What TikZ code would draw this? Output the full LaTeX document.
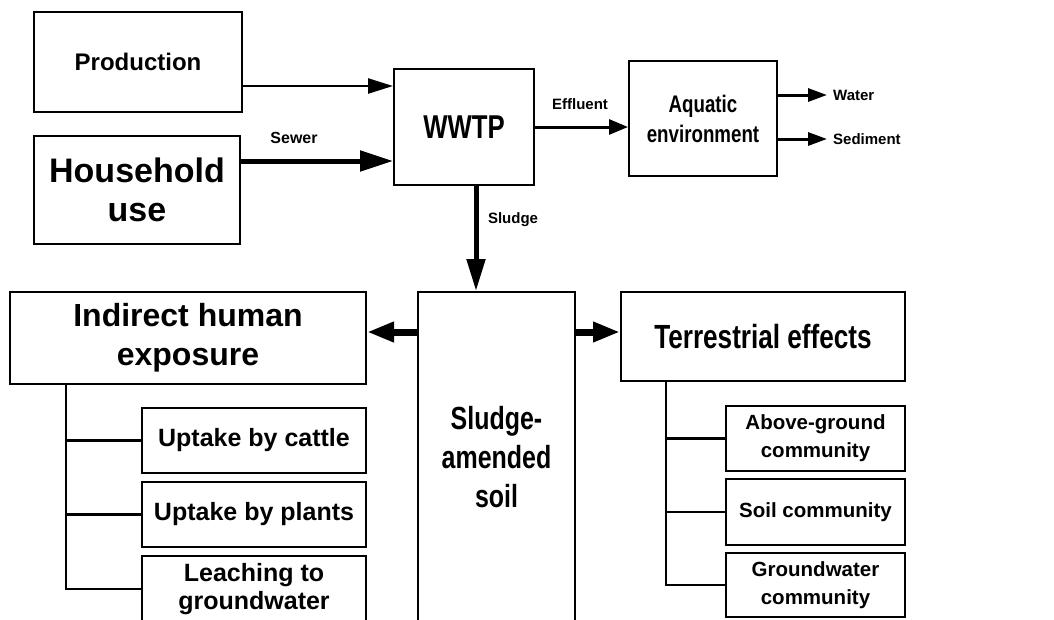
\documentclass[tikz,border=0pt]{standalone}
\usepackage{fontspec}
\setmainfont{Liberation Sans}
\newfontfamily\narrowsf{Liberation Sans}[FakeStretch=0.78]
\usetikzlibrary{arrows.meta}
\tikzset{
	box/.style={draw, rectangle, line width=2pt, inner sep=0pt, align=center},
	bigtxt/.style={font=\fontsize{34}{39}\selectfont\bfseries},
	headtxt/.style={font=\fontsize{32}{39}\selectfont\bfseries},
	narrowtxt/.style={font=\narrowsf\fontsize{32}{39}\selectfont\bfseries},
	midtxt/.style={font=\fontsize{25}{28}\selectfont\bfseries},
	subtxt/.style={font=\fontsize{20.5}{28}\selectfont\bfseries},
	lbl/.style={font=\fontsize{15}{18}\selectfont\bfseries, inner sep=0pt},
	treeline/.style={line width=2.5pt},
}

\begin{document}
\begin{tikzpicture}[x=1pt, y=-1pt]
	\useasboundingbox (0,0) rectangle (1054,619);
	\clip (0,0) rectangle (1054,619);
	
	% sources and treatment
	\node (prod) [box, font=\fontsize{24}{28}\selectfont\bfseries, minimum width=208pt, minimum height=100pt] at (138,62) {Production};
	\node (house) [box, bigtxt, minimum width=206pt, minimum height=108pt] at (137,190) {Household\\use};
	\node (wwtp) [box, font=\narrowsf\fontsize{33}{39}\selectfont\bfseries, minimum width=140pt, minimum height=116pt] at (464,127) {WWTP};
	\node (aqua) [box, font=\narrowsf\fontsize{24}{30}\selectfont\bfseries, minimum width=148pt, minimum height=115pt] at (703,118.5) {Aquatic\\environment};
	
	% soil compartment
	\node (soil) [box, narrowtxt, minimum width=157pt, minimum height=330pt] at (496.5,457) {Sludge-\\amended\\soil};
	\node (indirect) [box, headtxt, minimum width=356pt, minimum height=92pt] at (188,338) {Indirect human\\exposure};
	\node (terr) [box, font=\narrowsf\fontsize{33.5}{39}\selectfont\bfseries, minimum width=284pt, minimum height=89pt] at (763,336.5) {Terrestrial effects};
	
	\node (cattle) [box, midtxt, minimum width=224pt, minimum height=65pt] at (254,440.5) {Uptake by cattle};
	\node (plants) [box, midtxt, minimum width=224pt, minimum height=65pt] at (254,514.5) {Uptake by plants};
	\node (leach) [box, midtxt, minimum width=224pt, minimum height=66pt] at (254,589) {Leaching to\\groundwater};
	
	\node (above) [box, subtxt, minimum width=179pt, minimum height=65pt] at (815.5,438.5) {Above-ground\\community};
	\node (soilcom) [box, subtxt, minimum width=179pt, minimum height=66pt] at (815.5,512) {Soil community};
	\node (gwcom) [box, subtxt, minimum width=179pt, minimum height=64pt] at (815.5,585) {Groundwater\\community};
	
	% labels
	\node (sewer) [lbl, font=\fontsize{16}{18}\selectfont\bfseries] at (294,138) {Sewer};
	\node (effl) [lbl] at (580,104) {Effluent};
	\node (sludge) [lbl] at (513,220) {Sludge};
	\node (water) [lbl, anchor=west] at (833,95) {Water};
	\node (sed) [lbl, anchor=west] at (833,139) {Sediment};
	
	\coordinate (p1) at ([yshift=-24pt]prod.east);
	\coordinate (h1) at ([yshift=29pt]house.east);
	\coordinate (s1) at ([xshift=12pt]wwtp.south);
	\coordinate (s2) at (soil.west |- 0,332);
	\coordinate (s3) at (soil.east |- 0,332);
	\coordinate (ltop) at ([xshift=57pt]indirect.south west);
	\coordinate (rtop) at ([xshift=46pt]terr.south west);
	
	\begin{scope}[black]
		\draw [line width=2.5pt, -{Triangle[length=25pt,width=15pt]}] (p1) -- (p1 -| wwtp.west);
		\draw [line width=5pt, -{Triangle[length=33pt,width=20pt]}] (h1) -- (h1 -| wwtp.west);
		\draw [line width=3pt, -{Triangle[length=19pt,width=15pt]}] (wwtp.east) -- (wwtp.east -| aqua.west);
		\draw [line width=3pt, -{Triangle[length=19pt,width=13pt]}] (aqua.east |- water.west) -- ([xshift=-6pt]water.west);
		\draw [line width=3pt, -{Triangle[length=19pt,width=13pt]}] (aqua.east |- sed.west) -- ([xshift=-6pt]sed.west);
		\draw [line width=5pt, -{Triangle[length=32pt,width=18pt]}] (s1) -- (s1 |- soil.north);
		\draw [line width=7pt, -{Triangle[length=27pt,width=19pt]}] (s2) -- (s2 -| indirect.east);
		\draw [line width=7pt, -{Triangle[length=27pt,width=19pt]}] (s3) -- (s3 -| terr.west);
	\end{scope}
	
	\draw [treeline] (ltop) |- (cattle.west) (ltop) |- (plants.west) (ltop) |- (leach.west);
	\draw [treeline] (rtop) |- (above.west) (rtop) |- (soilcom.west) (rtop) |- (gwcom.west);
	
\end{tikzpicture}
\end{document}
